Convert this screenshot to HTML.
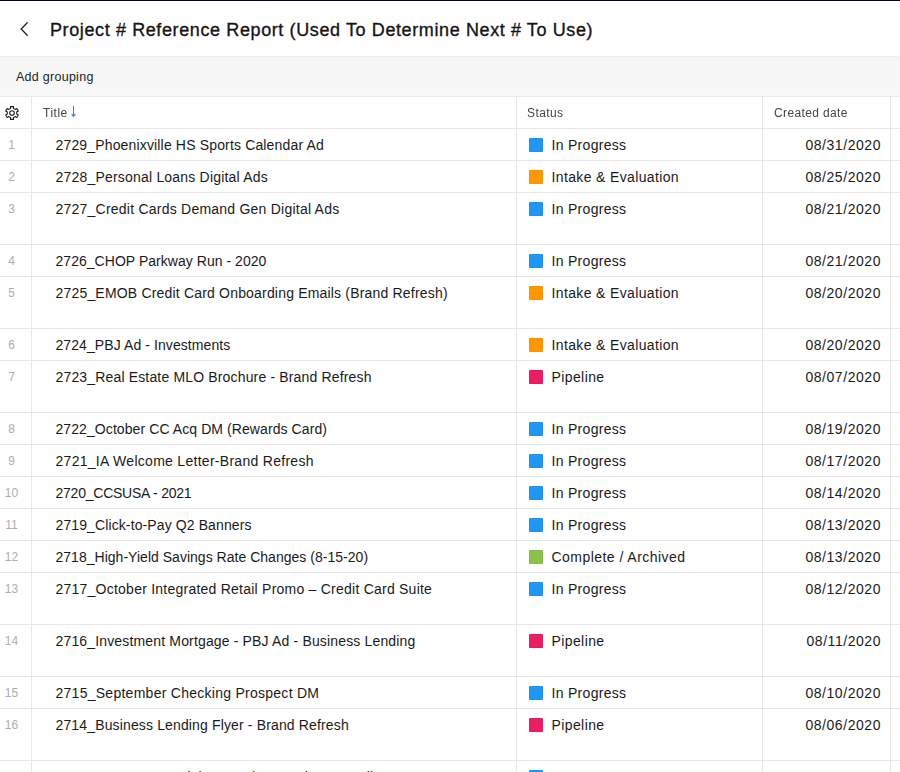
<!DOCTYPE html>
<html><head><meta charset="utf-8"><title>Project # Reference Report</title>
<style>
*{margin:0;padding:0;box-sizing:border-box}
html,body{width:900px;height:772px;overflow:hidden;background:#fff}
body{font-family:"Liberation Sans",Arial,sans-serif;color:#1a1a1a;position:relative}
.topline{position:absolute;left:0;top:0;width:900px;height:1px;background:#05051a}
.hdr{position:absolute;left:0;top:1px;width:900px;height:55px}
.back{position:absolute;left:14px;top:18px}
h1{position:absolute;left:50px;top:17px;font-size:18px;font-weight:normal;color:#141414;white-space:nowrap;line-height:24px;letter-spacing:0.61px;-webkit-text-stroke:0.32px #141414}
.tb{position:absolute;left:0;top:56px;width:900px;height:41px;background:#f7f7f7;border-top:1px solid #ededed;border-bottom:1px solid #ebebeb;box-shadow:inset 0 -1px 0 #fafafa}
.tb span{position:absolute;left:16px;top:12px;font-size:12.5px;line-height:16px;color:#201f1e;letter-spacing:0.27px}
.grid{position:absolute;left:0;top:97px;width:900px}
.thead,.row{position:relative;height:32px;border-bottom:1px solid #e8e8e8;width:900px}
.thead{height:32px}
.c0,.c1,.c2,.c3,.c4{position:absolute;top:0;bottom:0;white-space:nowrap}
.c0{left:0;width:32px;border-right:1px solid #e8e8e8}
.c1{left:32px;width:485px;border-right:1px solid #e8e8e8}
.c2{left:517px;width:246px;border-right:1px solid #e8e8e8}
.c3{left:763px;width:128px;border-right:1px solid #e8e8e8}
.c4{left:891px;width:9px}
.thead .c1,.thead .c2,.thead .c3{font-size:12px;line-height:16px;padding-top:8px;color:#454545;will-change:transform}
.thead .c1{padding-left:11px;letter-spacing:0.5px}
.thead .c2{padding-left:10px;letter-spacing:0.4px}
.thead .c3{padding-left:11px;letter-spacing:0.36px}
.gear{position:absolute;left:4px;top:8px}
.sort{position:absolute;left:37px;top:9px}
.row .c0{font-size:12px;color:#b0adab;padding-right:8px;text-align:center;padding-top:8px;line-height:16px}
.row .c1,.row .c2,.row .c3{font-size:14px;line-height:18px;padding-top:7px}
.row .c1{padding-left:23.5px}
.row .c2{padding-left:34.5px;letter-spacing:0.4px}
.row .c3{text-align:right;padding-right:9px;letter-spacing:0.55px}
.sq{position:absolute;left:12px;top:9px;width:14px;height:14px;border:1px solid rgba(0,0,0,0.04);border-radius:1px}
.sq.b{background:#2196f3}.sq.o{background:#ff9800}.sq.p{background:#e91e63}.sq.g{background:#8bc34a}
.row.last .c3{padding-top:9px}
.row .c2.sb{letter-spacing:0.3px}.row .c2.so{letter-spacing:0.36px}.row .c2.sg{letter-spacing:0.46px}.row .c2.sp{letter-spacing:0.4px}
</style></head><body>
<div class="topline"></div>
<div class="hdr"><svg class="back" width="16" height="20" viewBox="0 0 16 20"><path d="M13.2 3.8 L7.2 10 L13.2 16.2" fill="none" stroke="#201f1e" stroke-width="1.3" stroke-linecap="round"/></svg><h1>Project # Reference Report (Used To Determine Next # To Use)</h1></div>
<div class="tb"><span>Add grouping</span></div>
<div class="grid">
<div class="thead"><div class="c0"><svg class="gear" width="16" height="16" viewBox="0 0 16 16"><path d="M6.55 3.42L6.55 1.60L9.45 1.60L9.45 3.42A4.8 4.8 0 0 1 11.24 4.46L12.82 3.54L14.27 6.06L12.69 6.97A4.8 4.8 0 0 1 12.69 9.03L14.27 9.94L12.82 12.46L11.24 11.54A4.8 4.8 0 0 1 9.45 12.58L9.45 14.40L6.55 14.40L6.55 12.58A4.8 4.8 0 0 1 4.76 11.54L3.18 12.46L1.73 9.94L3.31 9.03A4.8 4.8 0 0 1 3.31 6.97L1.73 6.06L3.18 3.54L4.76 4.46A4.8 4.8 0 0 1 6.55 3.42Z" fill="none" stroke="#201f1e" stroke-width="1.1" stroke-linejoin="miter"/><circle cx="8" cy="8" r="2.3" fill="none" stroke="#201f1e" stroke-width="1.1"/></svg></div><div class="c1">Title <svg class="sort" width="8" height="12" viewBox="0 0 8 12"><path d="M4.5 0 V9" stroke="#2f80fa" stroke-width="1"/><path d="M2 8.3 L4.5 11.3 L7 8.3 Z" fill="#2f80fa"/></svg></div><div class="c2">Status</div><div class="c3">Created date</div><div class="c4"></div></div>
<div class="row" style="height:32px"><div class="c0">1</div><div class="c1" style="letter-spacing:0.158px">2729_Phoenixville HS Sports Calendar Ad</div><div class="c2 sb"><i class="sq b"></i>In Progress</div><div class="c3">08/31/2020</div><div class="c4"></div></div>
<div class="row" style="height:32px"><div class="c0">2</div><div class="c1" style="letter-spacing:0.2px">2728_Personal Loans Digital Ads</div><div class="c2 so"><i class="sq o"></i>Intake &amp; Evaluation</div><div class="c3">08/25/2020</div><div class="c4"></div></div>
<div class="row" style="height:52px"><div class="c0">3</div><div class="c1" style="letter-spacing:0.231px">2727_Credit Cards Demand Gen Digital Ads</div><div class="c2 sb"><i class="sq b"></i>In Progress</div><div class="c3">08/21/2020</div><div class="c4"></div></div>
<div class="row" style="height:32px"><div class="c0">4</div><div class="c1" style="letter-spacing:0.037px">2726_CHOP Parkway Run - 2020</div><div class="c2 sb"><i class="sq b"></i>In Progress</div><div class="c3">08/21/2020</div><div class="c4"></div></div>
<div class="row" style="height:52px"><div class="c0">5</div><div class="c1" style="letter-spacing:0.185px">2725_EMOB Credit Card Onboarding Emails (Brand Refresh)</div><div class="c2 so"><i class="sq o"></i>Intake &amp; Evaluation</div><div class="c3">08/20/2020</div><div class="c4"></div></div>
<div class="row" style="height:32px"><div class="c0">6</div><div class="c1" style="letter-spacing:0.083px">2724_PBJ Ad - Investments</div><div class="c2 so"><i class="sq o"></i>Intake &amp; Evaluation</div><div class="c3">08/20/2020</div><div class="c4"></div></div>
<div class="row" style="height:52px"><div class="c0">7</div><div class="c1" style="letter-spacing:0.159px">2723_Real Estate MLO Brochure - Brand Refresh</div><div class="c2 sp"><i class="sq p"></i>Pipeline</div><div class="c3">08/07/2020</div><div class="c4"></div></div>
<div class="row" style="height:32px"><div class="c0">8</div><div class="c1" style="letter-spacing:0.083px">2722_October CC Acq DM (Rewards Card)</div><div class="c2 sb"><i class="sq b"></i>In Progress</div><div class="c3">08/19/2020</div><div class="c4"></div></div>
<div class="row" style="height:32px"><div class="c0">9</div><div class="c1" style="letter-spacing:0.286px">2721_IA Welcome Letter-Brand Refresh</div><div class="c2 sb"><i class="sq b"></i>In Progress</div><div class="c3">08/17/2020</div><div class="c4"></div></div>
<div class="row" style="height:32px"><div class="c0">10</div><div class="c1" style="letter-spacing:-0.235px">2720_CCSUSA - 2021</div><div class="c2 sb"><i class="sq b"></i>In Progress</div><div class="c3">08/14/2020</div><div class="c4"></div></div>
<div class="row" style="height:32px"><div class="c0">11</div><div class="c1" style="letter-spacing:0.111px">2719_Click-to-Pay Q2 Banners</div><div class="c2 sb"><i class="sq b"></i>In Progress</div><div class="c3">08/13/2020</div><div class="c4"></div></div>
<div class="row" style="height:32px"><div class="c0">12</div><div class="c1" style="letter-spacing:0.022px">2718_High-Yield Savings Rate Changes (8-15-20)</div><div class="c2 sg"><i class="sq g"></i>Complete / Archived</div><div class="c3">08/13/2020</div><div class="c4"></div></div>
<div class="row" style="height:52px"><div class="c0">13</div><div class="c1" style="letter-spacing:0.236px">2717_October Integrated Retail Promo – Credit Card Suite</div><div class="c2 sb"><i class="sq b"></i>In Progress</div><div class="c3">08/12/2020</div><div class="c4"></div></div>
<div class="row" style="height:52px"><div class="c0">14</div><div class="c1" style="letter-spacing:0.157px">2716_Investment Mortgage - PBJ Ad - Business Lending</div><div class="c2 sp"><i class="sq p"></i>Pipeline</div><div class="c3">08/11/2020</div><div class="c4"></div></div>
<div class="row" style="height:32px"><div class="c0">15</div><div class="c1" style="letter-spacing:0.265px">2715_September Checking Prospect DM</div><div class="c2 sb"><i class="sq b"></i>In Progress</div><div class="c3">08/10/2020</div><div class="c4"></div></div>
<div class="row" style="height:52px"><div class="c0">16</div><div class="c1" style="letter-spacing:0.143px">2714_Business Lending Flyer - Brand Refresh</div><div class="c2 sp"><i class="sq p"></i>Pipeline</div><div class="c3">08/06/2020</div><div class="c4"></div></div>
<div class="row last" style="height:52px"><div class="c0">17</div><div class="c1" style="letter-spacing:0.17px">2713_PBJ Commercial Campaign Brochure Emails</div><div class="c2 sb"><i class="sq b"></i>In Progress</div><div class="c3">08/05/2020</div><div class="c4"></div></div>
</div>
</body></html>
